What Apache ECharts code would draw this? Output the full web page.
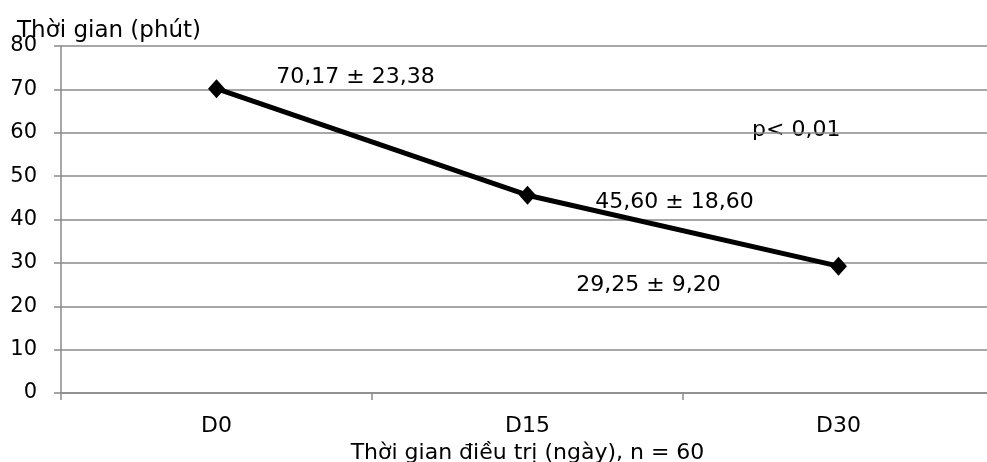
<!DOCTYPE html>
<html>
<head>
<meta charset="utf-8">
<script src="https://cdn.jsdelivr.net/npm/echarts@6/dist/echarts.min.js"></script>
<style>
html,body{margin:0;padding:0;background:#fff;}
#c{width:987px;height:462px;}
</style>
</head>
<body>
<div id="c"></div>
<script>
var categories = ['D0', 'D15', 'D30'];
var values = [70.17, 45.60, 29.25];
var valueLabels = ['70,17 \u00b1 23,38', '45,60 \u00b1 18,60', '29,25 \u00b1 9,20'];
var labelOffsets = [[139, -11], [147, 7], [-190, 19]];
var yTicks = {min: 0, max: 80, interval: 10};
var yAxisTitle = 'Th\u1eddi gian (ph\u00fat)';
var xAxisTitle = 'Th\u1eddi gian \u0111i\u1ec1u tr\u1ecb (ng\u00e0y), n = 60';
var pText = 'p< 0,01';

var FONT = 'DejaVu Sans';
var chart = echarts.init(document.getElementById('c'), null, {renderer: 'canvas'});
var gridColor = '#8a8a8a';

chart.setOption({
  animation: false,
  backgroundColor: '#ffffff',
  textStyle: {fontFamily: FONT},
  title: {
    text: yAxisTitle,
    left: 12, top: 15,
    textStyle: {fontFamily: FONT, fontSize: 23, fontWeight: 'normal', color: '#000'}
  },
  grid: {left: 61, top: 46, width: 933, height: 347, containLabel: false, outerBoundsMode: 'none'},
  xAxis: {
    type: 'category',
    data: categories,
    boundaryGap: true,
    name: xAxisTitle,
    nameLocation: 'middle',
    nameGap: 48,
    nameTextStyle: {fontFamily: FONT, fontSize: 22, color: '#000'},
    axisLine: {lineStyle: {color: gridColor, width: 1.5}},
    axisTick: {show: true, length: 7, lineStyle: {color: gridColor, width: 1.5}},
    axisLabel: {margin: 22, fontFamily: FONT, fontSize: 22, color: '#000'},
    splitLine: {show: false}
  },
  yAxis: {
    type: 'value',
    min: yTicks.min, max: yTicks.max, interval: yTicks.interval,
    axisLine: {show: true, lineStyle: {color: gridColor, width: 1.5}},
    axisTick: {show: true, length: 7, lineStyle: {color: gridColor, width: 1.5}},
    axisLabel: {margin: 24, fontFamily: FONT, fontSize: 21, color: '#000'},
    splitLine: {show: true, lineStyle: {color: gridColor, width: 1.5}}
  },
  graphic: [{
    type: 'text',
    left: 752, top: 119,
    style: {text: pText, font: '22px "DejaVu Sans"', fill: '#000'}
  }],
  series: [{
    type: 'line',
    data: values.map(function (v, i) {
      return {
        value: v,
        label: {
          show: true,
          position: 'inside',
          offset: labelOffsets[i],
          formatter: valueLabels[i]
        }
      };
    }),
    symbol: 'diamond',
    symbolSize: [17, 19],
    showAllSymbol: true,
    lineStyle: {color: '#000', width: 5},
    itemStyle: {color: '#000'},
    label: {fontFamily: FONT, fontSize: 22, color: '#000'},
    z: 5
  }]
});
</script>
</body>
</html>
